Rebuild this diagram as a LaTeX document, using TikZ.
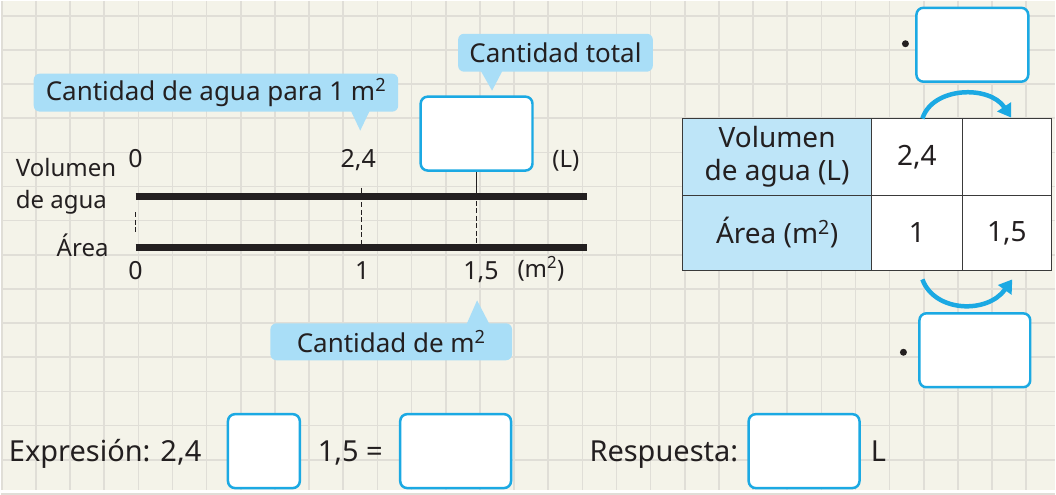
\documentclass[tikz,border=0pt]{standalone}
\usepackage{fontspec}
\setmainfont{Noto Sans}
\usepackage{xcolor}
\definecolor{pageink}{HTML}{231F20}
\definecolor{paper}{HTML}{F4F3E9}
\definecolor{gridink}{HTML}{E0DED7}
\definecolor{tipfill}{HTML}{A9DEF7}
\definecolor{boxblue}{HTML}{1BA9E3}
\definecolor{headfill}{HTML}{BEE5F8}
\definecolor{ruleink}{HTML}{3A3A3A}
\usetikzlibrary{arrows.meta}

\begin{document}
\begin{tikzpicture}[x=1pt,y=-1pt,
  point/.style={coordinate},
  axistext/.style={text=pageink, inner sep=0pt, font=\fontsize{24}{28}\selectfont},
  axisnum/.style={text=pageink, inner sep=0pt, font=\fontsize{25}{30}\selectfont},
  bubble/.style={fill=tipfill, rounded corners=6pt, text=pageink, inner sep=0pt, font=\fontsize{26}{30}\selectfont},
  answer/.style={draw=boxblue, fill=white, line width=2.5pt, rounded corners=7pt, inner sep=0pt, minimum height=74pt},
  cell/.style={draw=ruleink, line width=1.4pt, inner sep=0pt, text=pageink, align=center, font=\fontsize{28}{33}\selectfont},
  bigtext/.style={text=pageink, inner sep=0pt, font=\fontsize{29}{34}\selectfont},
  dot/.style={circle, fill=pageink, inner sep=0pt, minimum size=7pt},
  bar/.style={draw=pageink, line width=7pt},
  guide/.style={draw=pageink, line width=1.3pt, dash pattern=on 5pt off 2.5pt},
  swing/.style={draw=boxblue, line width=4.5pt, -{Triangle[length=13pt,width=16pt]}}]
% paper and grid
\fill[paper] (0,0) rectangle (1056,490);
\foreach \i in {0,...,30} \draw[gridink, line width=1.6pt] (1+34.2*\i,0) -- (1+34.2*\i,490);
\foreach \j in {0,...,14} \draw[gridink, line width=1.6pt] (0,15+34.2*\j) -- (1056,15+34.2*\j);
\useasboundingbox (0,0) rectangle (1056,490);

% callouts
\node[bubble, minimum width=365pt, minimum height=38pt] (c1) at (215.5,92) {Cantidad de agua para 1 m\textsuperscript{2}};
\node[point] (c1t) at (360,130) {};
\fill[tipfill] (c1t) -- ++(-10,-21) -- ++(20,0) -- cycle;
\node[bubble, minimum width=195pt, minimum height=38pt] (c2) at (555.5,52) {Cantidad total};
\node[point] (c2t) at (492,90) {};
\fill[tipfill] (c2t) -- ++(-12,-21) -- ++(23,0) -- cycle;
\node[bubble, minimum width=242pt, minimum height=37pt] (c3) at (391,341.5) {Cantidad de m\textsuperscript{2}};
\node[point] (c3t) at (477,300) {};
\fill[tipfill] (c3t) -- ++(-11,25) -- ++(24,0) -- cycle;

% number lines
\node[point] (v0) at (135,196) {};
\node[point] (v1) at (587,196) {};
\node[point] (w0) at (135,247) {};
\node[point] (w1) at (587,247) {};
\draw[bar] (v0) -- (v1);
\draw[bar] (w0) -- (w1);
\node[answer, minimum width=112pt] (a1) at (476.5,133) {};
\node[point] (g1) at (476.5,193) {};
\node[point] (g2) at (476.5,247) {};
\node[point] (g3) at (361,187) {};
\node[point] (g4) at (361,247) {};
\node[point] (g5) at (135,212) {};
\node[point] (g6) at (135,232) {};
\draw[pageink, line width=1.3pt] (a1.south) -- (g1);
\draw[guide] (g1) -- (g2);
\draw[guide] (g3) -- (g4);
\draw[guide] (g5) -- (g6);

\node[axistext, anchor=base west] (n1) at (15,176) {Volumen};
\node[axistext, anchor=base west] (n2) at (15,208) {de agua};
\node[axistext, anchor=base east] (n3) at (108,256) {Área};
\node[axisnum, anchor=base] (n4) at (135,167) {0};
\node[axisnum, anchor=base] (n5) at (358,167) {2,4};
\node[axistext, anchor=base] (n6) at (566,167) {(L)};
\node[axisnum, anchor=base] (n7) at (135,279) {0};
\node[axisnum, anchor=base] (n8) at (362,279) {1};
\node[axisnum, anchor=base] (n9) at (481,279) {1,5};
\node[axistext, anchor=base] (n10) at (541,277) {(m\textsuperscript{2})};

% table
\node[cell, fill=headfill, minimum width=189pt, minimum height=77pt] (h1) at (777.5,156.5) {Volumen\\de agua (L)};
\node[cell, fill=headfill, minimum width=189pt, minimum height=75pt] (h2) at (777.5,232.5) {Área (m\textsuperscript{2})};
\node[cell, fill=white, minimum width=91pt, minimum height=77pt] (d1) at (917.5,156.5) {2,4};
\node[cell, fill=white, minimum width=89pt, minimum height=77pt] (d2) at (1007.5,156.5) {};
\node[cell, fill=white, minimum width=91pt, minimum height=75pt] (d3) at (917.5,232.5) {1};
\node[cell, fill=white, minimum width=89pt, minimum height=75pt] (d4) at (1007.5,232.5) {1,5};

% factors
\node[dot] (p1) at (906,43) {};
\node[answer, minimum width=112pt] (a2) at (973,44) {};
\node[dot] (p2) at (904,352) {};
\node[answer, minimum width=111pt] (a3) at (975.5,350) {};
\node[point] (s1) at (923,118) {};
\node[point] (e1) at (1012,117) {};
\node[point] (s2) at (923,279) {};
\node[point] (e2) at (1013,279) {};
\draw[swing] (s1) .. controls (933,86) and (990,84) .. (e1);
\draw[swing] (s2) .. controls (935,312) and (988,314) .. (e2);

% expression and answer
\node[bigtext, anchor=base west] (x1) at (8,461) {Expresión: 2,4};
\node[answer, minimum width=72pt] (b1) at (263.5,451) {};
\node[bigtext, anchor=base] (x2) at (350,461) {1,5 =};
\node[answer, minimum width=111pt] (b2) at (455.5,451) {};
\node[bigtext, anchor=base] (x3) at (664,461) {Respuesta:};
\node[answer, minimum width=111pt] (b3) at (804.5,451) {};
\node[bigtext, anchor=base] (x4) at (879,461) {L};
\end{tikzpicture}
\end{document}
